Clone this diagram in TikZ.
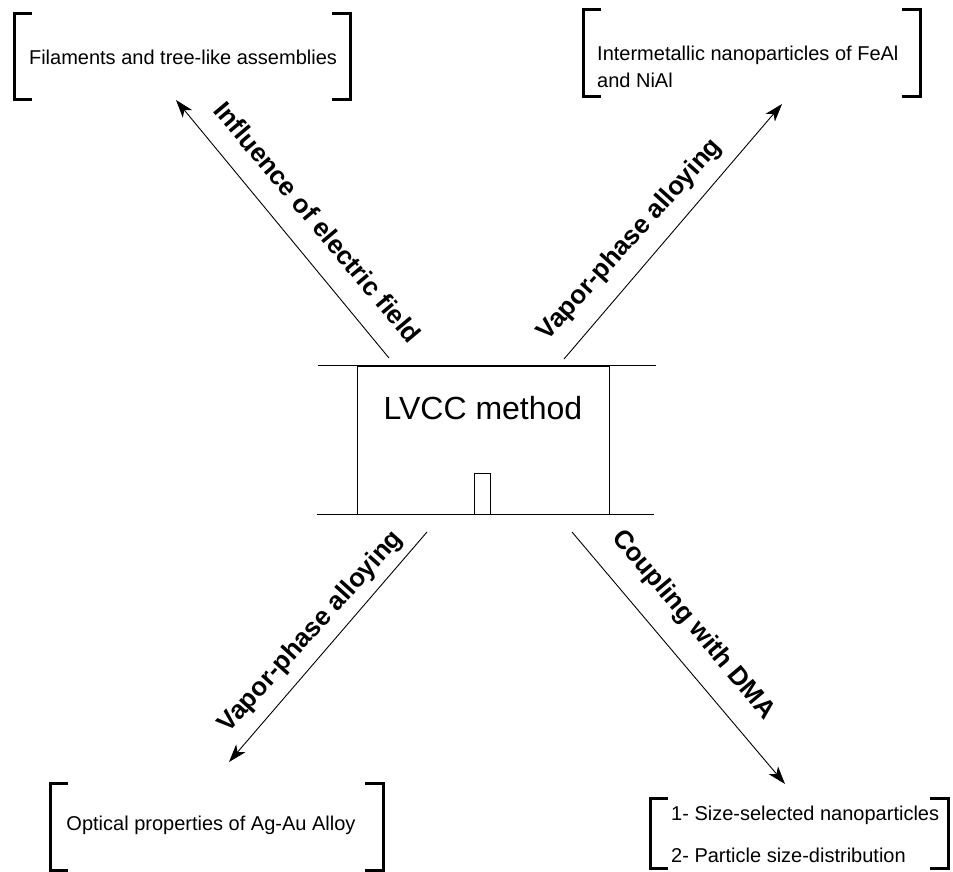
\documentclass[tikz,border=0pt]{standalone}
\usepackage{fontspec}
\setmainfont{Liberation Sans}
\usetikzlibrary{arrows.meta,calc}
\begin{document}
\begin{tikzpicture}[x=1pt,y=-1pt,
  brk/.style={draw=none, inner sep=0, outer sep=0},
  bracketline/.style={line width=3pt, line cap=butt, line join=miter},
  lbl/.style={font=\fontsize{26}{31}\selectfont\bfseries, inner sep=0},
  boxtxt/.style={font=\fontsize{20}{27}\selectfont, inner sep=0},
  arr/.style={line width=0.9pt, -{Stealth[length=18pt,width=12pt,inset=5pt]}},
  thinline/.style={line width=1pt}]
\useasboundingbox (0,0) rectangle (953,872);

% bracket frames
\node[brk, minimum width=336pt, minimum height=86pt] (b1) at (182,57) {};
\node[brk, minimum width=337pt, minimum height=87pt] (b2) at (751.5,53.5) {};
\node[brk, minimum width=333pt, minimum height=87pt] (b3) at (216.5,826.5) {};
\node[brk, minimum width=298pt, minimum height=70pt] (b4) at (799,833) {};
\foreach \n in {b1,b2,b3,b4}{
  \draw[bracketline] ([xshift=18pt]\n.north west) -| (\n.south west) -- ++(18,0);
  \draw[bracketline] ([xshift=-18pt]\n.north east) -| (\n.south east) -- ++(-18,0);
}

% bracket texts
\node[boxtxt] (t1) at (183,57) {Filaments and tree-like assemblies};
\node[boxtxt, align=left, anchor=west] (t2) at (597,66.5) {Intermetallic nanoparticles of FeAl\\and NiAl};
\node[boxtxt] (t3) at (211,825) {Optical properties of Ag-Au Alloy};
\node[boxtxt, align=left, anchor=west, font=\fontsize{20}{42}\selectfont] (t4) at (671,834) {1- Size-selected nanoparticles\\2- Particle size-distribution};

% central apparatus
\node[draw, thinline, minimum width=252pt, minimum height=148pt, inner sep=0] (lvcc) at (483,440) {};
\node[font=\fontsize{32}{38}\selectfont, inner sep=0] (lvcct) at (483,408) {LVCC method};
\node[draw, thinline, minimum width=16pt, minimum height=41pt, inner sep=0] (nozzle) at (482,493.5) {};
\draw[line width=1.8pt] (lvcc.north west) -- (lvcc.north east);
\draw[thinline] ([xshift=-39pt]lvcc.north west) -- ([xshift=46pt]lvcc.north east);
\draw[thinline] ([xshift=-40pt]lvcc.south west) -- ([xshift=44pt]lvcc.south east);

% arrows
\coordinate (s1) at (389,358); \coordinate (e1) at (176,100);
\coordinate (s2) at (564,359); \coordinate (e2) at (782,104);
\coordinate (s3) at (427,532); \coordinate (e3) at (229,762);
\coordinate (s4) at (572,532); \coordinate (e4) at (785,784);
\draw[arr] (s1) -- (e1);
\draw[arr] (s2) -- (e2);
\draw[arr] (s3) -- (e3);
\draw[arr] (s4) -- (e4);

% arrow labels
\node[lbl, rotate=-50] (l1) at (318,222) {Influence of electric field};
\node[lbl, rotate=48] (l2) at (630,240) {Vapor-phase alloying};
\node[lbl, rotate=48] (l3) at (311,632) {Vapor-phase alloying};
\node[lbl, rotate=-50] (l4) at (693,625) {Coupling with DMA};
\end{tikzpicture}
\end{document}
